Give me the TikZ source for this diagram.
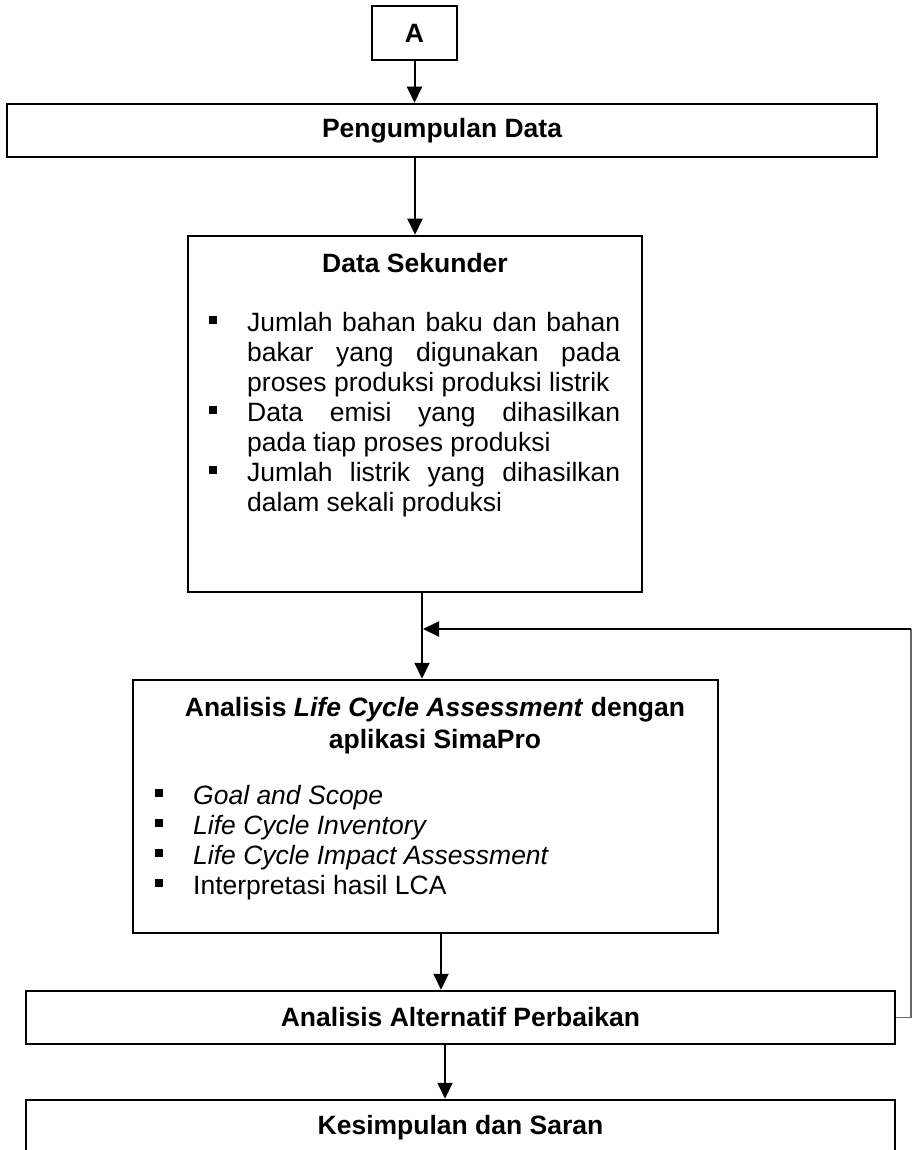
\documentclass[tikz,border=0pt]{standalone}
\usepackage{fontspec}
\setmainfont{Liberation Sans}
\usetikzlibrary{arrows.meta}
\setlength{\parindent}{0pt}
\newcommand{\kotakpoin}{\leavevmode\llap{\rule[7pt]{8pt}{8pt}\hspace{30pt}}}
\begin{document}
\begin{tikzpicture}[x=1pt, y=-1pt,
    every node/.style={inner sep=0pt, font=\fontsize{26.5}{30}\selectfont},
    kotak/.style={draw, line width=2.5pt, font=\fontsize{26.5}{30}\selectfont\bfseries},
    panah/.style={line width=2pt, -{Triangle[width=15pt, length=16pt]}},
    balik/.style={line width=1.2pt, draw=gray!80!black}]
    \useasboundingbox (0,0) rectangle (916,1150);

    % kotak utama
    \node[kotak, minimum width=85, minimum height=54] (A) at (414.5,33) {A};
    \node[kotak, minimum width=870, minimum height=53] (kumpul) at (442,130.5) {Pengumpulan Data};
    \node[kotak, minimum width=454, minimum height=356] (sekunder) at (415,414) {};
    \node[kotak, minimum width=585, minimum height=253] (lca) at (425.5,806.5) {};
    \node[kotak, minimum width=869, minimum height=53] (alternatif) at (460.5,1017.5) {Analisis Alternatif Perbaikan};
    \node[kotak, minimum width=869, minimum height=56] (simpul) at (460.5,1128) {Kesimpulan dan Saran};

    % isi data sekunder
    \node[font=\fontsize{26.5}{30}\selectfont\bfseries] (judul1) at (415,263) {Data Sekunder};
    \node[anchor=north west, text width=373pt, align=justify] (isi1) at (247,312) {%
    \kotakpoin Jumlah bahan baku dan bahan\linebreak bakar yang digunakan pada\linebreak proses produksi produksi listrik\par
    \kotakpoin Data emisi yang dihasilkan\linebreak pada tiap proses produksi\par
    \kotakpoin Jumlah listrik yang dihasilkan\linebreak dalam sekali produksi\par};

    % isi analisis lca
    \node[anchor=north, align=center, font=\fontsize{26.5}{32}\selectfont\bfseries] (judul2) at (435,697)
    {Analisis \textit{Life Cycle Assessment} dengan\\aplikasi SimaPro};
    \node[anchor=north west, align=left] (isi2) at (193,785) {%
    \kotakpoin\textit{Goal and Scope}\\
    \kotakpoin\textit{Life Cycle Inventory}\\
    \kotakpoin\textit{Life Cycle Impact Assessment}\\
    \kotakpoin Interpretasi hasil LCA};

    % umpan balik
    \coordinate (sudut1) at (911,1017.5);
    \coordinate (sudut2) at (911,629);
    \coordinate (masuk) at (423,629);

    \draw[panah] (A) -- (A |- kumpul.north);
    \draw[panah] (kumpul.south -| sekunder.north) -- (sekunder.north);
    \draw[panah] ([xshift=7pt]sekunder.south) -- ([xshift=7pt]sekunder.south |- lca.north);
    \draw[balik] (alternatif.east) -- (sudut1) -- (sudut2);
    \draw[line width=2pt] (sudut2) -- ([xshift=14pt]masuk);
    \draw[panah] ([xshift=16pt]masuk) -- (masuk);
    \draw[panah] ([xshift=15.5pt]lca.south) -- ([xshift=15.5pt]lca.south |- alternatif.north);
    \draw[panah] ([xshift=-15.5pt]alternatif.south) -- ([xshift=-15.5pt]alternatif.south |- simpul.north);
\end{tikzpicture}
\end{document}
